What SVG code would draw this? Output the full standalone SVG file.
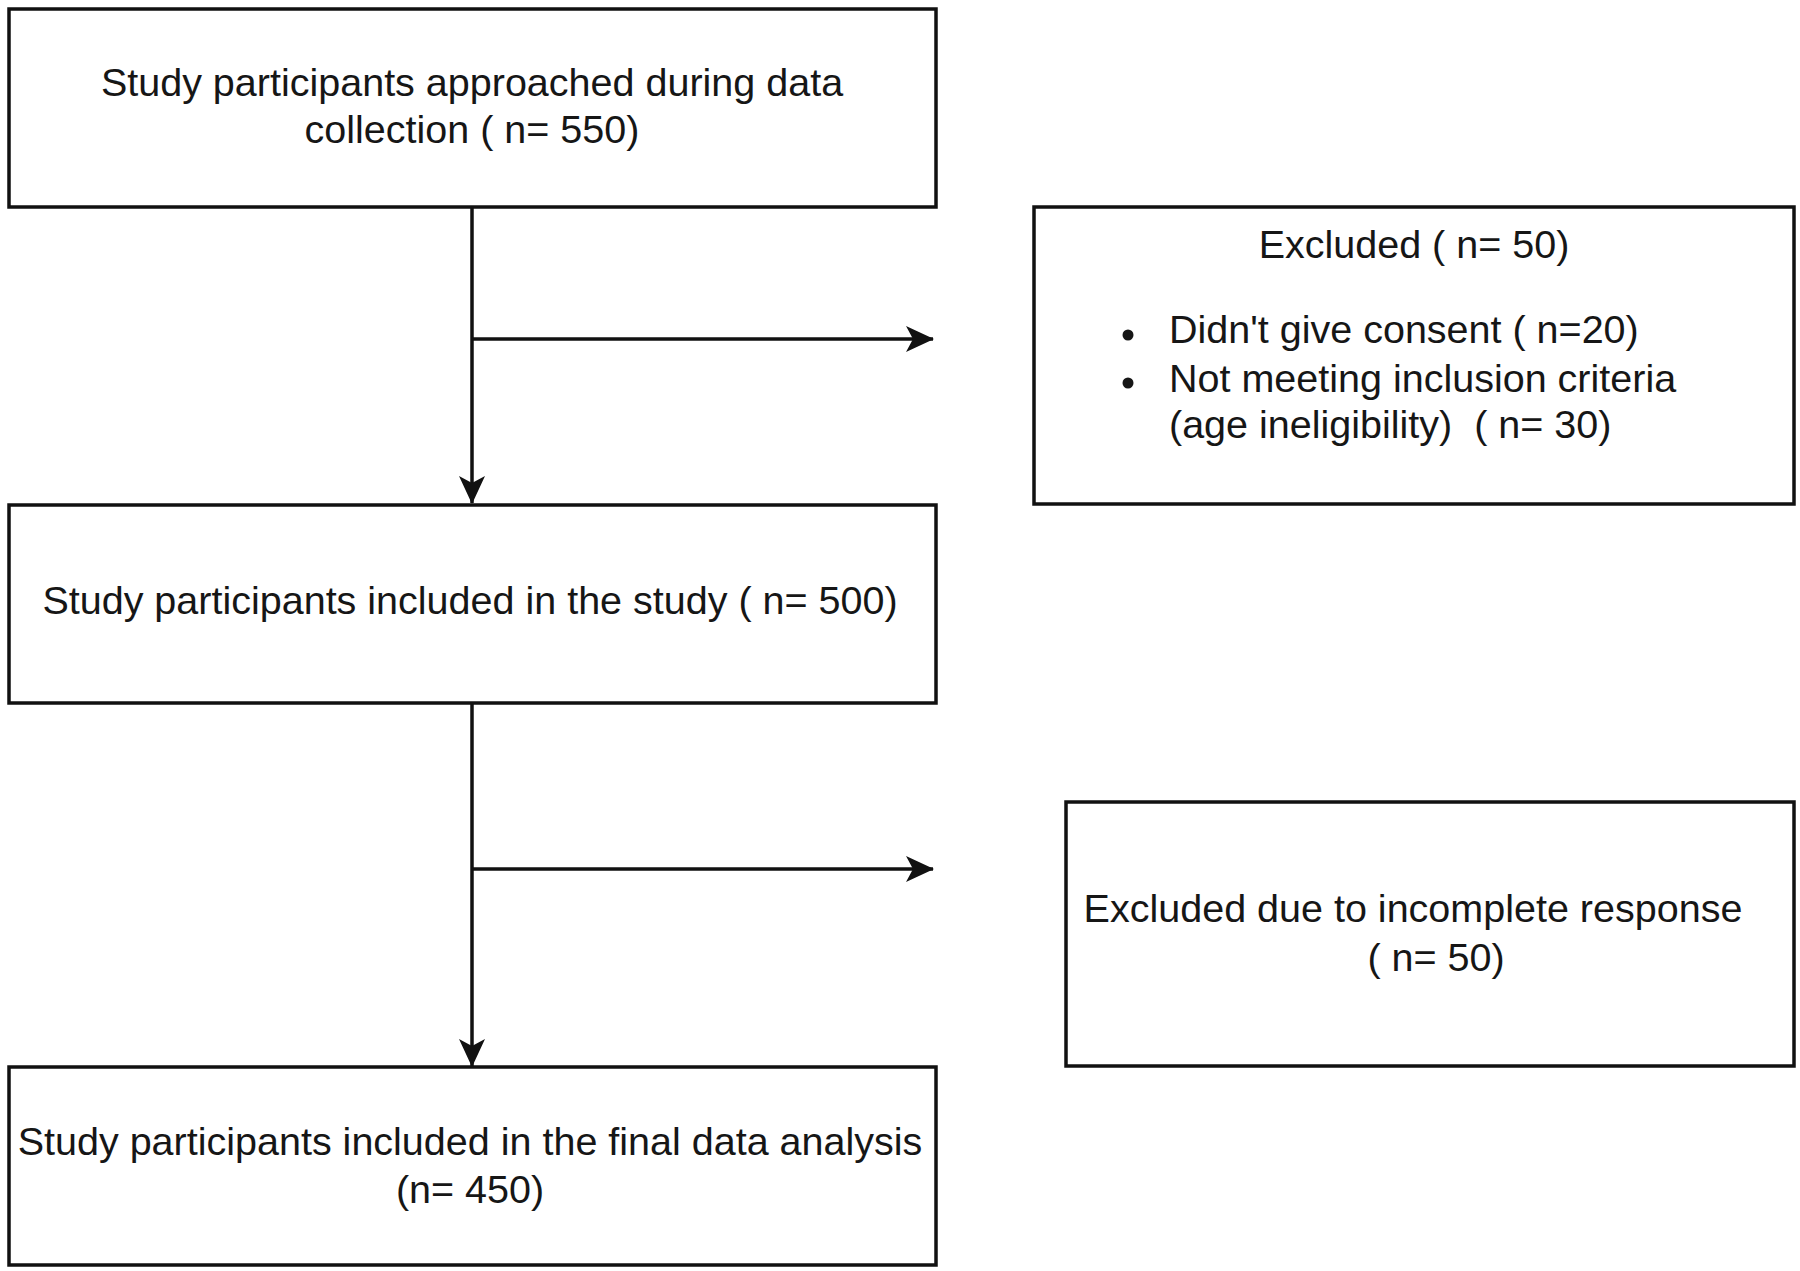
<svg xmlns="http://www.w3.org/2000/svg" width="1800" height="1271" viewBox="0 0 1800 1271">
<style>
.box{fill:#ffffff;stroke:#111111;stroke-width:3.5}
.t{font-family:"Liberation Sans",Arial,sans-serif;font-size:39.5px;fill:#161616}
.c{text-anchor:middle}
.edge{fill:none;stroke:#111111;stroke-width:3.5}
</style>
<defs>
<marker id="arr" viewBox="0 0 28 26" refX="27" refY="13" markerWidth="28" markerHeight="26" markerUnits="userSpaceOnUse" orient="auto">
<path d="M0,0 L28,13 L0,26 L7,13 Z" fill="#111111"/>
</marker>
</defs>
<rect width="1800" height="1271" fill="#ffffff"/>
<g id="connectors">
<path class="edge" d="M472,207 L472,503" marker-end="url(#arr)"/>
<path class="edge" d="M472,339 L933,339" marker-end="url(#arr)"/>
<path class="edge" d="M472,703 L472,1066" marker-end="url(#arr)"/>
<path class="edge" d="M472,869 L933,869" marker-end="url(#arr)"/>
</g>
<g id="node-approached">
<rect class="box" x="9" y="9" width="927" height="198"/>
<text class="t c" x="472" y="96">Study participants approached during data</text>
<text class="t c" x="472" y="143">collection ( n= 550)</text>
</g>
<g id="node-excluded1">
<rect class="box" x="1034" y="207" width="760" height="297"/>
<text class="t c" x="1414" y="258">Excluded ( n= 50)</text>
<circle cx="1128" cy="335" r="5.5" fill="#161616"/>
<circle cx="1128" cy="383" r="5.5" fill="#161616"/>
<text class="t" x="1169" y="343">Didn't give consent ( n=20)</text>
<text class="t" x="1169" y="392">Not meeting inclusion criteria</text>
<text class="t" x="1169" y="438" xml:space="preserve">(age ineligibility)  ( n= 30)</text>
</g>
<g id="node-included">
<rect class="box" x="9" y="505" width="927" height="198"/>
<text class="t c" x="470" y="614">Study participants included in the study ( n= 500)</text>
</g>
<g id="node-excluded2">
<rect class="box" x="1066" y="802" width="728" height="264"/>
<text class="t c" x="1413" y="922">Excluded due to incomplete response</text>
<text class="t c" x="1436" y="971">( n= 50)</text>
</g>
<g id="node-final">
<rect class="box" x="9" y="1067" width="927" height="198"/>
<text class="t c" x="470" y="1155">Study participants included in the final data analysis</text>
<text class="t c" x="470" y="1203">(n= 450)</text>
</g>
</svg>
